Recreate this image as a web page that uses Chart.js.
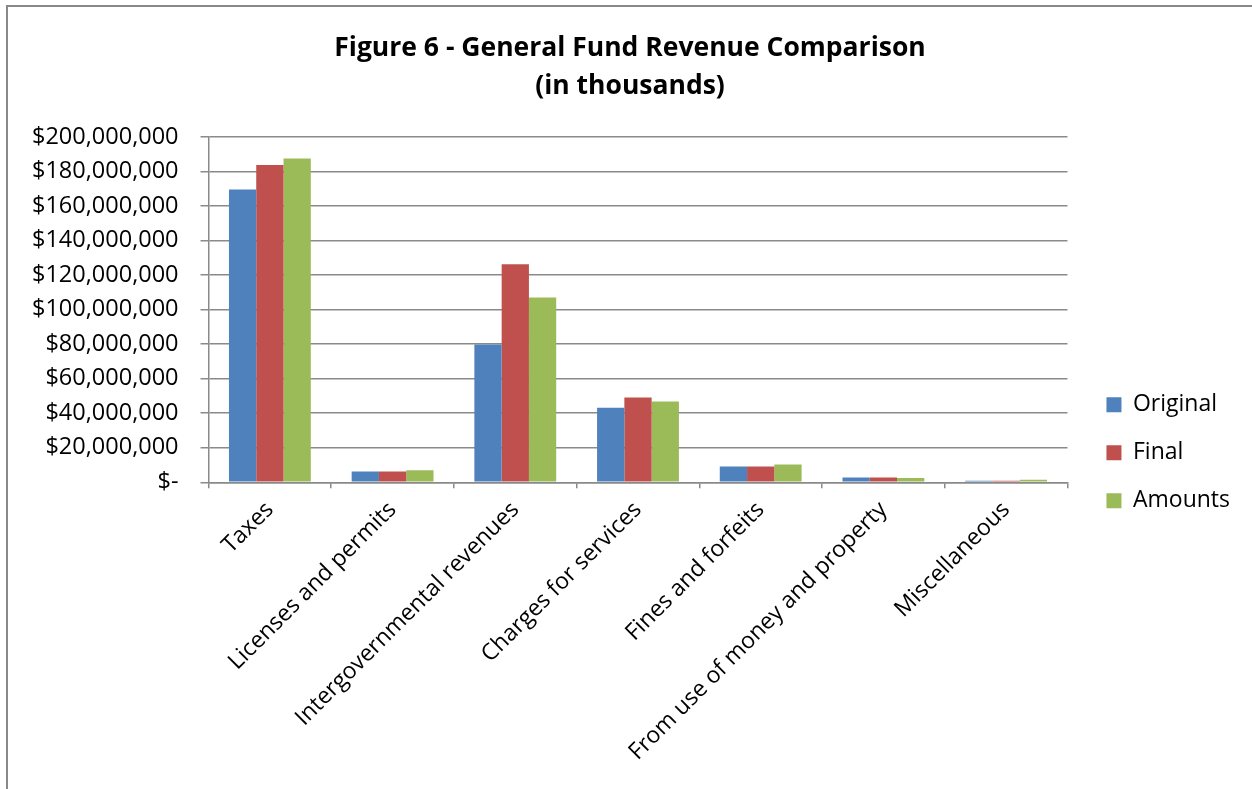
<!DOCTYPE html>
<html>
<head>
<meta charset="utf-8">
<script src="https://cdn.jsdelivr.net/npm/chart.js@4.4.1/dist/chart.umd.min.js"></script>
<style>
  html, body { margin: 0; padding: 0; background: #fff; overflow: hidden; }
  #wrap { position: absolute; left: 0; top: 0; width: 1252px; height: 789px; }
  #frame { position: absolute; left: 6px; top: 5px; width: 1260px; height: 800px; border-left: 2px solid #888; border-top: 2px solid #888; }
  canvas { position: absolute; left: 0; top: 0; }
</style>
</head>
<body>
<div id="wrap">
  <div id="frame"></div>
  <canvas id="chart" width="1252" height="789"></canvas>
</div>
<script>
// --- DATA ---
const categories = ['Taxes', 'Licenses and permits', 'Intergovernmental revenues', 'Charges for services', 'Fines and forfeits', 'From use of money and property', 'Miscellaneous'];
const original = [169500000, 6200000, 79800000, 43200000, 9100000, 2700000, 900000];
const finalAmt = [183700000, 6300000, 126200000, 49100000, 9100000, 2700000, 900000];
const amounts  = [187500000, 6900000, 107000000, 46700000, 10300000, 2500000, 1500000];
const titleLines = ['Figure 6 - General Fund Revenue Comparison', '(in thousands)'];

const FONT = "'Open Sans', 'Noto Sans', sans-serif";
const GRID = '#8a8a8a';

function fmtMoney(v) {
    if (v === 0) return '$-';
    return '$' + v.toLocaleString('en-US');
}

// nudge title + legend without touching the plot area
const nudge = {
    id: 'nudge',
    afterLayout(chart) {
        chart.titleBlock.left += 12; chart.titleBlock.right += 12;
        chart.legend.left += 14; chart.legend.right += 14;
        chart.legend.top -= 5; chart.legend.bottom -= 5;
    }
};

new Chart(document.getElementById('chart').getContext('2d'), {
    type: 'bar',
    data: {
        labels: categories,
        datasets: [
            { label: 'Original', data: original, backgroundColor: '#4F81BD' },
            { label: 'Final', data: finalAmt, backgroundColor: '#C0504D' },
            { label: 'Amounts', data: amounts, backgroundColor: '#9BBB59' }
        ]
    },
    plugins: [nudge],
    options: {
        responsive: false,
        animation: false,
        devicePixelRatio: 1,
        datasets: { bar: { categoryPercentage: 0.667, barPercentage: 1.0 } },
        layout: { padding: { left: 10, right: 26, top: 0, bottom: 15 } },
        plugins: {
            title: {
                display: true,
                text: titleLines,
                color: '#000',
                font: { family: FONT, size: 26.5, weight: 'bold', lineHeight: 1.45 },
                padding: { top: 29, bottom: 31 }
            },
            legend: {
                position: 'right',
                title: { display: true, text: '', padding: 63.5 },
                labels: {
                    color: '#000',
                    font: { family: FONT, size: 23 },
                    boxWidth: 15, boxHeight: 15,
                    padding: 25
                }
            },
            tooltip: { enabled: false }
        },
        scales: {
            x: {
                grid: { display: true, drawOnChartArea: false, drawTicks: true, tickLength: 6, color: GRID, lineWidth: 1.5 },
                border: { display: true, color: GRID, width: 1.5 },
                ticks: { color: '#000', font: { family: FONT, size: 23 }, maxRotation: 45, minRotation: 45, padding: 8, autoSkip: false }
            },
            y: {
                min: 0, max: 200000000,
                grid: { color: GRID, lineWidth: 1.5, tickLength: 8 },
                border: { display: true, color: GRID, width: 1.5 },
                ticks: { stepSize: 20000000, color: '#000', font: { family: FONT, size: 23.5 }, padding: 22, callback: v => fmtMoney(v) }
            }
        }
    }
});
</script>
</body>
</html>
